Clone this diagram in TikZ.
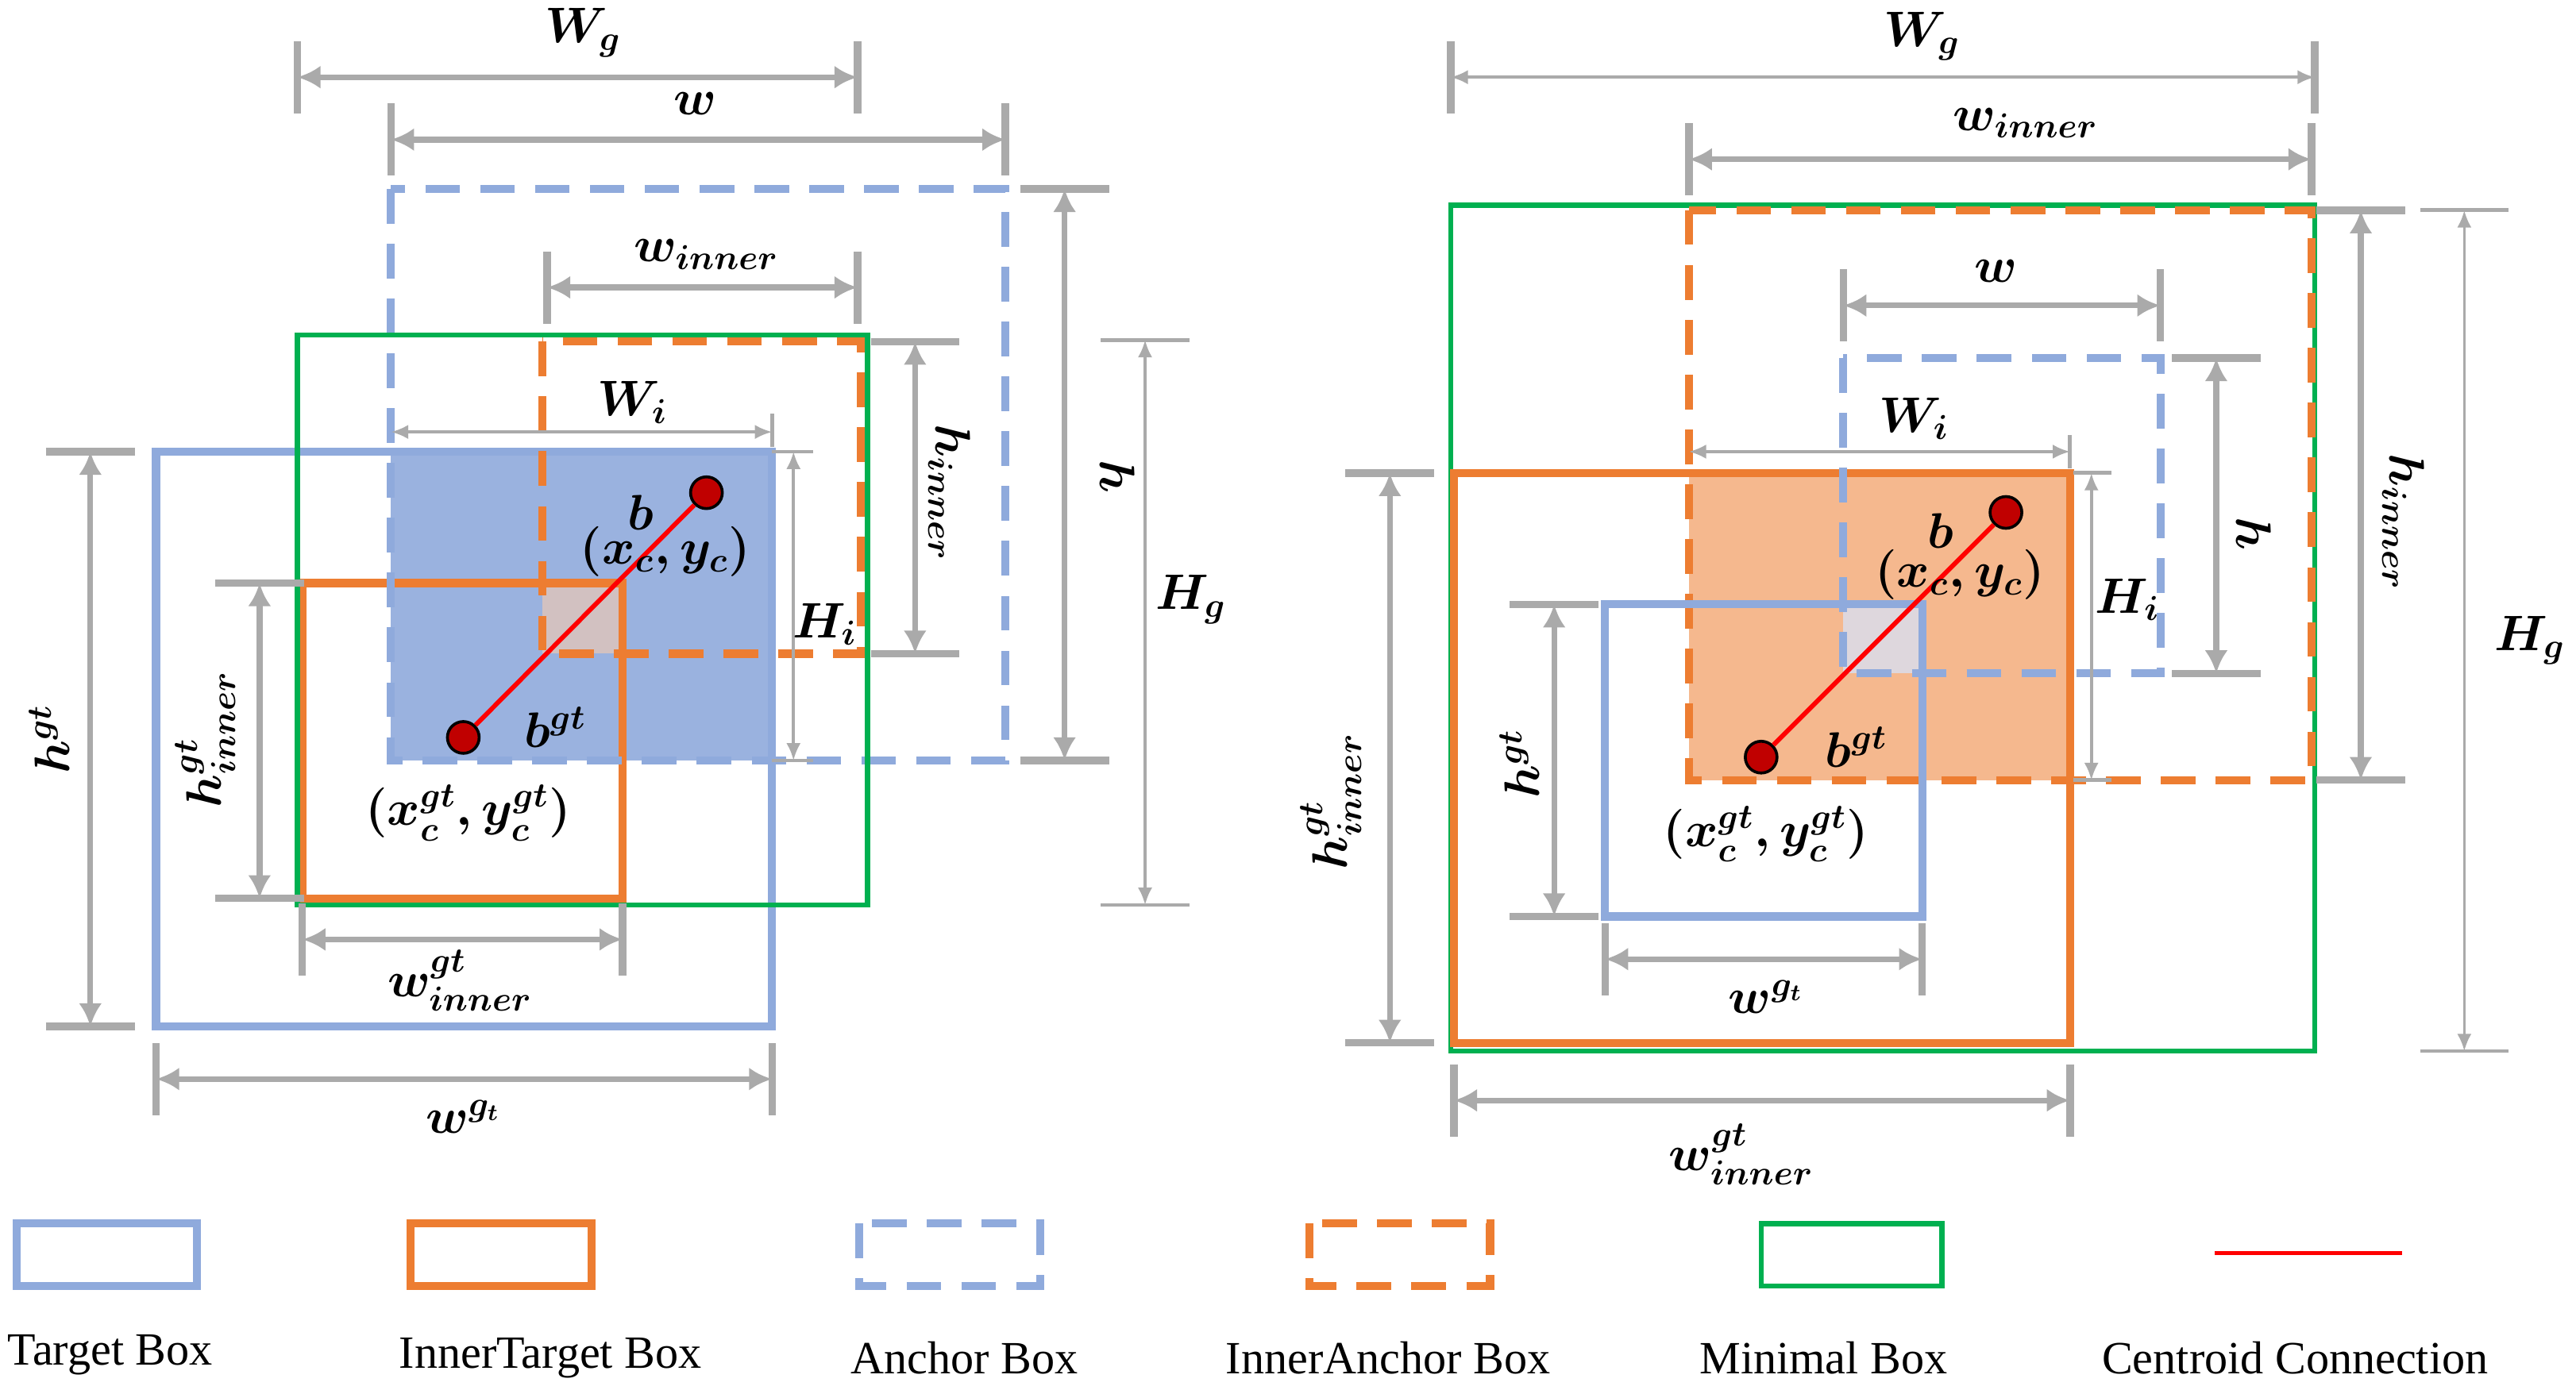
\documentclass[tikz,border=0pt]{standalone}
\usepackage{fontspec}
\setmainfont{Liberation Serif}
\usepackage{amsmath}
\usetikzlibrary{arrows.meta}
\definecolor{cblue}{RGB}{143,170,220}
\definecolor{corange}{RGB}{237,125,49}
\definecolor{cgreen}{RGB}{0,176,80}
\definecolor{cgray}{RGB}{170,170,170}
\definecolor{cdot}{RGB}{192,0,0}
\tikzset{
 tb/.style={draw=cblue,line width=2.8pt},
 itb/.style={draw=corange,line width=2.8pt},
 ab/.style={draw=cblue,line width=2.8pt,dash pattern=on 12pt off 7pt},
 iab/.style={draw=corange,line width=2.8pt,dash pattern=on 12pt off 7pt},
 mb/.style={draw=cgreen,line width=1.8pt},
 dimk/.style={draw=cgray,line width=2pt,{Latex[length=8pt,width=8pt]}-{Latex[length=8pt,width=8pt]}},
 dimt/.style={draw=cgray,line width=1pt,{Latex[length=6pt,width=5pt]}-{Latex[length=6pt,width=5pt]}},
 tick/.style={draw=cgray,line width=2.6pt},
 ticks/.style={draw=cgray,line width=1.3pt},
 lab/.style={font=\fontsize{17}{20}\selectfont\boldmath},
 leg/.style={font=\fontsize{16}{19}\selectfont},
 dot/.style={circle,fill=cdot,draw=black,line width=1pt,inner sep=0pt,minimum size=11pt},
 cen/.style={draw=red,line width=1.6pt},
}
% horizontal dim: y, x1, x2, style, tickstyle
\newcommand\myhd[5]{\draw[#5] (#2,#1-22)--(#2,#1+22); \draw[#5] (#3,#1-22)--(#3,#1+22); \draw[#4] (#2,#1)--(#3,#1);}
\newcommand\myvd[5]{\draw[#5] (#1-27,#2)--(#1+27,#2); \draw[#5] (#1-27,#3)--(#1+27,#3); \draw[#4] (#1,#2)--(#1,#3);}
\begin{document}
\begin{tikzpicture}[x=0.02cm,y=-0.02cm]
\useasboundingbox (0,0) rectangle (1568,846);
% ===== left =====
\fill[cblue,opacity=0.9] (238,275) rectangle (470,463);
\fill[cblue!60!corange!60] (330,355) rectangle (379,398);
\draw[tb] (95,275) rectangle (470,625);
\draw[itb] (184,355) rectangle (379,547);
\draw[ab] (238,115) rectangle (612,463);
\draw[iab] (330,208) rectangle (524,398);
\draw[mb] (181,204) rectangle (528,551);
\node[dot] (b1) at (430,300) {};
\node[dot] (g1) at (282,449) {};
\draw[cen] (b1) -- (g1);
\node[lab] at (390,312) {$b$};
\node[lab] at (405,336) {$(x_c,y_c)$};
\node[lab] at (338,443) {$b^{gt}$};
\node[lab] at (285,495) {$(x_c^{gt},y_c^{gt})$};
\myhd{47}{181}{522}{dimk}{tick} \node[lab] at (355,20) {$W_g$};
\myhd{85}{238}{612}{dimk}{tick} \node[lab] at (423,63) {$w$};
\myhd{175}{333}{522}{dimk}{tick} \node[lab] at (430,155) {$w_{inner}$};
\draw[dimt] (238,263)--(470,263); \draw[ticks] (470,252)--(470,272); \node[lab] at (385,245) {$W_i$};
\myvd{648}{115}{463}{dimk}{tick} \node[lab,rotate=-90] at (680,290) {$h$};
\myvd{557}{208}{398}{dimk}{tick} \node[lab,rotate=-90] at (578,300) {$h_{inner}$};
\myvd{697}{207}{551}{dimt}{ticks} \node[lab] at (725,365) {$H_g$};
\draw[dimt] (483,275)--(483,463); \draw[ticks] (470,275)--(495,275); \draw[ticks] (470,463)--(495,463); \node[lab] at (502,380) {$H_i$};
\myvd{55}{275}{625}{dimk}{tick} \node[lab,rotate=90] at (30,450) {$h^{gt}$};
\myvd{158}{355}{547}{dimk}{tick} \node[lab,rotate=90] at (125,450) {$h^{gt}_{inner}$};
\myhd{572}{184}{379}{dimk}{tick} \node[lab] at (280,597) {$w^{gt}_{inner}$};
\myhd{657}{95}{470}{dimk}{tick} \node[lab] at (282,680) {$w^{g_t}$};
% ===== right =====
\fill[corange!55] (1028,288) rectangle (1260,475);
\fill[cblue!70!corange!40] (1122,368) rectangle (1170,410);
\draw[mb] (883,125) rectangle (1409,640);
\draw[itb] (885,288) rectangle (1260,635);
\draw[iab] (1028,128) rectangle (1407,475);
\draw[ab] (1122,218) rectangle (1315,410);
\draw[tb] (977,368) rectangle (1170,558);
\node[dot] (b2) at (1221,312) {};
\node[dot] (g2) at (1072,461) {};
\draw[cen] (b2) -- (g2);
\node[lab] at (1181,323) {$b$};
\node[lab] at (1193,350) {$(x_c,y_c)$};
\node[lab] at (1130,455) {$b^{gt}$};
\node[lab] at (1075,508) {$(x_c^{gt},y_c^{gt})$};
\myhd{47}{883}{1409}{dimt}{tick} \node[lab] at (1170,22) {$W_g$};
\myhd{97}{1028}{1407}{dimk}{tick} \node[lab] at (1233,75) {$w_{inner}$};
\myhd{186}{1122}{1315}{dimk}{tick} \node[lab] at (1215,165) {$w$};
\draw[dimt] (1028,275)--(1260,275); \draw[ticks] (1260,265)--(1260,285); \node[lab] at (1165,255) {$W_i$};
\myvd{846}{288}{635}{dimk}{tick} \node[lab,rotate=90] at (810,488) {$h^{gt}_{inner}$};
\myvd{946}{368}{558}{dimk}{tick} \node[lab,rotate=90] at (925,465) {$h^{gt}$};
\myhd{584}{977}{1170}{dimk}{tick} \node[lab] at (1075,607) {$w^{g_t}$};
\myhd{670}{885}{1260}{dimk}{tick} \node[lab] at (1060,703) {$w^{gt}_{inner}$};
\draw[dimt] (1273,288)--(1273,475); \draw[ticks] (1262,288)--(1285,288); \draw[ticks] (1262,475)--(1285,475); \node[lab] at (1295,365) {$H_i$};
\myvd{1349}{218}{410}{dimk}{tick} \node[lab,rotate=-90] at (1372,325) {$h$};
\myvd{1437}{128}{475}{dimk}{tick} \node[lab,rotate=-90] at (1463,318) {$h_{inner}$};
\myvd{1500}{128}{640}{dimt}{ticks} \node[lab] at (1540,390) {$H_g$};
% ===== legend =====
\draw[tb] (10,745) rectangle (120,783);
\draw[itb] (250,745) rectangle (360,783);
\draw[ab] (523,745) rectangle (633,783);
\draw[iab] (797,745) rectangle (907,783);
\draw[mb] (1072,745) rectangle (1182,783);
\draw[cen] (1348,763) -- (1462,763);
\node[leg] (l1) at (67,825) {Target Box};
\node[leg] (l2) at (335,827) {InnerTarget Box};
\node[leg] (l3) at (587,827) {Anchor Box};
\node[leg] (l4) at (845,827) {InnerAnchor Box};
\node[leg] (l5) at (1110,827) {Minimal Box};
\node[leg] (l6) at (1397,827) {Centroid Connection};
\end{tikzpicture}
\end{document}
